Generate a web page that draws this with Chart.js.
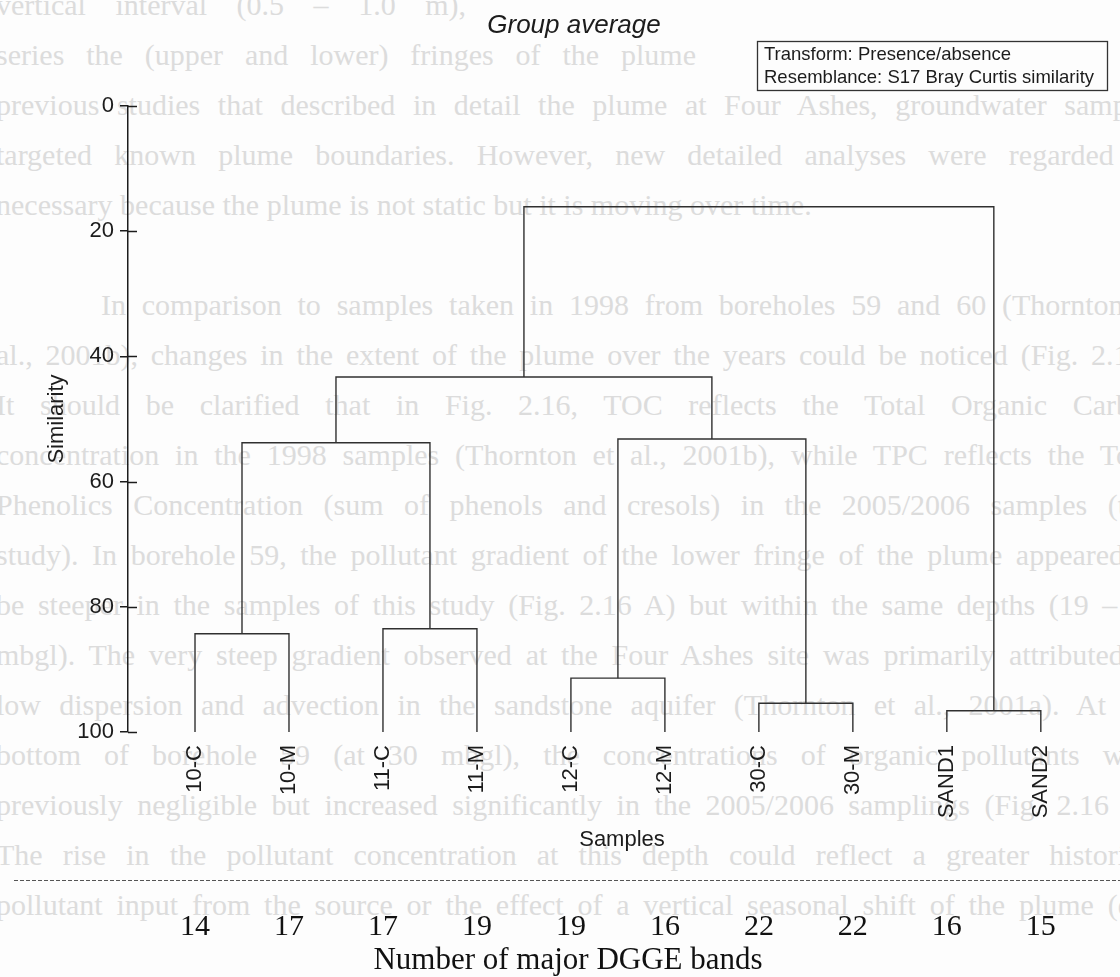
<!DOCTYPE html>
<html>
<head>
<meta charset="utf-8">
<title>Group average dendrogram</title>
<script src="https://cdn.jsdelivr.net/npm/chart.js@4.4.1/dist/chart.umd.min.js"></script>
<style>
  html, body { margin: 0; padding: 0; background: #fdfdfd; }
  #page { position: relative; width: 1120px; height: 977px; overflow: hidden; }
  #bgText { position: absolute; left: 0; top: 0; width: 1120px; height: 977px;
            font-family: 'Liberation Serif', 'Times New Roman', serif; font-size: 30px; color: #dcdcdc; }
  #bgText div { position: absolute; height: 36px; line-height: 36px; overflow: hidden;
                text-align: justify; text-align-last: justify; }
  #bgText div.last { text-align-last: left; }
  #dendro { position: absolute; left: 0; top: 0; }
</style>
</head>
<body>
<div id="page">
  <div id="bgText"></div>
  <canvas id="dendro" width="1120" height="977"></canvas>
</div>
<script>
// samples (leaves) in dendrogram order, with their DGGE band counts
const samples = ['10-C', '10-M', '11-C', '11-M', '12-C', '12-M', '30-C', '30-M', 'SAND1', 'SAND2'];
const bandCounts = [14, 17, 17, 19, 19, 16, 22, 22, 16, 15];

// merge table: children are leaf indexes (0-9) or earlier merges (10+)
const mergeLeft = [0, 2, 4, 6, 8, 10, 12, 15, 17];
const mergeRight = [1, 3, 5, 7, 9, 11, 13, 16, 14];
const mergeSimilarity = [84.3, 83.5, 91.4, 95.4, 96.6, 53.8, 53.2, 43.3, 16.1];

const similarityTicks = [0, 20, 40, 60, 80, 100];

// text of the page that shows through behind the figure: [text, indent, width, class]
const pageLines = [
    ['vertical interval (0.5 \u2013 1.0 m),', 0, 470],
    ['series the (upper and lower) fringes of the plume', 0, 700],
    ['previous studies that described in detail the plume at Four Ashes, groundwater samples', 0, 1165],
    ['targeted known plume boundaries. However, new detailed analyses were regarded as', 0, 1165],
    ['necessary because the plume is not static but it is moving over time.', 0, 1165, 'last'],
    ['', 0, 1165],
    ['In comparison to samples taken in 1998 from boreholes 59 and 60 (Thornton et', 105, 1060],
    ['al., 2001b), changes in the extent of the plume over the years could be noticed (Fig. 2.16).', 0, 1165],
    ['It should be clarified that in Fig. 2.16, TOC reflects the Total Organic Carbon', 0, 1165],
    ['concentration in the 1998 samples (Thornton et al., 2001b), while TPC reflects the Total', 0, 1165],
    ['Phenolics Concentration (sum of phenols and cresols) in the 2005/2006 samples (this', 0, 1165],
    ['study). In borehole 59, the pollutant gradient of the lower fringe of the plume appeared to', 0, 1165],
    ['be steeper in the samples of this study (Fig. 2.16 A) but within the same depths (19 \u2013 21', 0, 1165],
    ['mbgl). The very steep gradient observed at the Four Ashes site was primarily attributed to', 0, 1165],
    ['low dispersion and advection in the sandstone aquifer (Thornton et al., 2001a). At the', 0, 1165],
    ['bottom of borehole 59 (at 30 mbgl), the concentrations of organic pollutants were', 0, 1165],
    ['previously negligible but increased significantly in the 2005/2006 samplings (Fig. 2.16 A).', 0, 1165],
    ['The rise in the pollutant concentration at this depth could reflect a greater historical', 0, 1165],
    ['pollutant input from the source or the effect of a vertical seasonal shift of the plume (due', 0, 1165]
];

const bg = document.getElementById('bgText');
pageLines.forEach((line, i) => {
    const div = document.createElement('div');
    div.textContent = line[0];
    div.style.left = (line[1] - 4) + 'px';
    div.style.width = line[2] + 'px';
    div.style.top = (5 + i * 50 - 18) + 'px';
    if (line[3]) div.className = line[3];
    bg.appendChild(div);
});

// build the dendrogram links from the merge table
const nodeX = samples.map((s, i) => i);
const nodeY = samples.map(() => 100);
const datasets = [];
mergeLeft.forEach((left, k) => {
    const right = mergeRight[k];
    const h = mergeSimilarity[k];
    nodeX.push((nodeX[left] + nodeX[right]) / 2);
    nodeY.push(h);
    datasets.push({
        data: [
            { x: nodeX[left], y: nodeY[left] },
            { x: nodeX[left], y: h },
            { x: nodeX[right], y: h },
            { x: nodeX[right], y: nodeY[right] }
        ],
        borderColor: '#303030',
        borderWidth: 1.4,
        pointRadius: 0,
        fill: false,
        tension: 0
    });
});

const sans = "'Liberation Sans', Arial, sans-serif";
const serif = "'Liberation Serif', 'Times New Roman', serif";
const ink = '#1c1c1c';

function leafTicks(scale) {
    scale.ticks = samples.map((s, i) => ({ value: i }));
}

// extra drawing: inner half of the ticks, the method box, the band row
const extras = {
    id: 'extras',
    afterDraw(chart) {
        const ctx = chart.ctx;
        const area = chart.chartArea;
        const yScale = chart.scales.y;
        ctx.save();
        ctx.strokeStyle = ink;
        ctx.lineWidth = 1.5;
        similarityTicks.forEach(v => {
            const py = Math.round(yScale.getPixelForValue(v)) + 0.5;
            ctx.beginPath();
            ctx.moveTo(area.left, py);
            ctx.lineTo(area.left + 9, py);
            ctx.stroke();
        });

        // method box
        ctx.fillStyle = '#fdfdfd';
        ctx.fillRect(757.5, 41.5, 350, 49);
        ctx.lineWidth = 1.3;
        ctx.strokeStyle = '#333';
        ctx.strokeRect(757.5, 41.5, 350, 49);
        ctx.fillStyle = ink;
        ctx.font = '18.5px ' + sans;
        ctx.textBaseline = 'middle';
        ctx.textAlign = 'left';
        ctx.fillText('Transform: Presence/absence', 764, 55);
        ctx.fillText('Resemblance: S17 Bray Curtis similarity', 764, 78);

        // dashed separator above the band counts
        ctx.strokeStyle = '#555';
        ctx.lineWidth = 1;
        ctx.setLineDash([4, 2]);
        ctx.beginPath();
        ctx.moveTo(14, 880.5);
        ctx.lineTo(1120, 880.5);
        ctx.stroke();
        ctx.setLineDash([]);

        ctx.font = '31px ' + serif;
        ctx.textAlign = 'center';
        ctx.fillStyle = '#111';
        ctx.fillText('Number of major DGGE bands', 568, 961);
        ctx.restore();
    }
};

new Chart(document.getElementById('dendro'), {
    type: 'line',
    data: { datasets: datasets },
    plugins: [extras],
    options: {
        responsive: false,
        devicePixelRatio: 1,
        animation: false,
        layout: { padding: { left: 32, right: 4, top: 0, bottom: 0 } },
        plugins: {
            legend: { display: false },
            tooltip: { enabled: false },
            title: {
                display: true,
                text: 'Group average',
                color: ink,
                font: { family: sans, size: 26, style: 'italic', weight: 'normal' },
                padding: { top: 10, bottom: 64.8 }
            }
        },
        scales: {
            x: {
                type: 'linear',
                min: -0.713,
                max: 9.8,
                afterBuildTicks: leafTicks,
                afterFit(scale) { scale.height = 125; },
                grid: { display: false, drawTicks: false },
                border: { display: false },
                ticks: {
                    autoSkip: false,
                    minRotation: 90,
                    maxRotation: 90,
                    padding: 13,
                    color: ink,
                    font: { family: sans, size: 22 },
                    callback: (value, index) => samples[index]
                },
                title: {
                    display: true,
                    text: 'Samples',
                    color: ink,
                    font: { family: sans, size: 22 },
                    padding: { top: 0, bottom: 4 }
                }
            },
            x2: {
                type: 'linear',
                position: 'bottom',
                weight: 1,
                min: -0.713,
                max: 9.8,
                afterBuildTicks: leafTicks,
                afterFit(scale) { scale.height = 120; },
                grid: { display: false, drawTicks: false },
                border: { display: false },
                ticks: {
                    autoSkip: false,
                    minRotation: 0,
                    maxRotation: 0,
                    padding: 52,
                    color: '#111',
                    font: { family: serif, size: 30 },
                    callback: (value, index) => String(bandCounts[index])
                }
            },
            y: {
                type: 'linear',
                reverse: true,
                min: 0,
                max: 100,
                afterBuildTicks(scale) {
                    scale.ticks = similarityTicks.map(v => ({ value: v }));
                },
                afterFit(scale) { scale.width = 96; },
                grid: { drawOnChartArea: false, tickLength: 8, color: ink, lineWidth: 1.5 },
                border: { display: true, color: ink, width: 1.5 },
                ticks: {
                    padding: 6,
                    color: ink,
                    font: { family: sans, size: 22 }
                },
                title: {
                    display: true,
                    text: 'Similarity',
                    color: ink,
                    font: { family: sans, size: 22 },
                    padding: { top: 12, bottom: 0 }
                }
            }
        }
    }
});
</script>
</body>
</html>
